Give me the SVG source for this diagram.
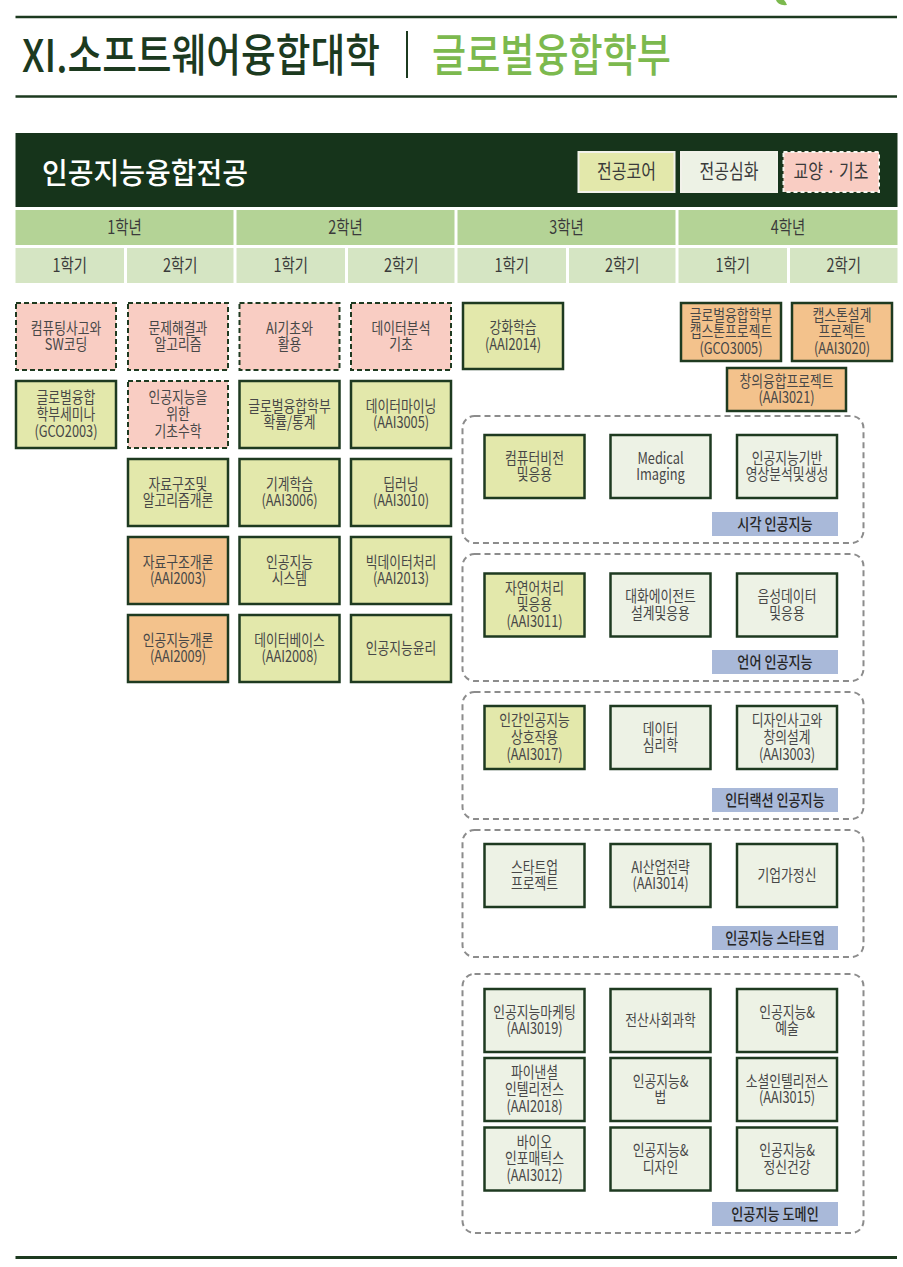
<svg xmlns="http://www.w3.org/2000/svg" width="903" height="1267" viewBox="0 0 903 1267">
<style>
text{font-family:"Noto Sans CJK KR","Noto Sans",sans-serif}
.t{font-size:16px;fill:#474747;text-anchor:middle;transform-box:fill-box;transform-origin:center;transform:scaleX(.8)}
.hd{font-size:18px;fill:#3a3a3a;text-anchor:middle;transform-box:fill-box;transform-origin:center;transform:scaleX(.8)}
.lg{font-size:20px;fill:#3a3a3a;text-anchor:middle;transform-box:fill-box;transform-origin:center;transform:scaleX(.8)}
.gt{font-size:16px;fill:#262626;font-weight:500;text-anchor:middle;transform-box:fill-box;transform-origin:center;transform:scaleX(.82)}
.pk{fill:#f9cdc3;stroke:#1e3a20;stroke-width:2;stroke-dasharray:5 3}
.yl{fill:#e3e8ab;stroke:#1e3a20;stroke-width:2.5}
.or{fill:#f3c28c;stroke:#1e3a20;stroke-width:2.5}
.lt{fill:#edf2e5;stroke:#1e3a20;stroke-width:2.5}
.grp{fill:none;stroke:#8c8c8c;stroke-width:2;stroke-dasharray:6 4}
.gl{fill:#a9b9d9}
.yr{fill:#b4d396}
.sm{fill:#d5e5c3}
</style>

<!-- page header -->
<g id="page-header">
  <path d="M776,0 Q778,6 787,5 Q786,2 784,0 Z" fill="#7cb94e"/>
  <line x1="15.5" y1="17" x2="897" y2="17" stroke="#1c3a1f" stroke-width="2.5"/>
  <text x="22" y="72" font-size="45" font-weight="500" fill="#1c3a1f" textLength="358" lengthAdjust="spacingAndGlyphs">XI.소프트웨어융합대학</text>
  <line x1="407" y1="31" x2="407" y2="78" stroke="#1c3a1f" stroke-width="2"/>
  <text x="432" y="72" font-size="45" font-weight="500" fill="#7cb94e" textLength="239" lengthAdjust="spacingAndGlyphs">글로벌융합학부</text>
  <line x1="15.5" y1="96.5" x2="897" y2="96.5" stroke="#1c3a1f" stroke-width="2.5"/>
</g>

<!-- major header -->
<g id="major-header">
  <rect x="15.5" y="133" width="882" height="74" fill="#16341b"/>
  <text x="42" y="184" font-size="29" font-weight="500" fill="#ffffff" textLength="206" lengthAdjust="spacingAndGlyphs">인공지능융합전공</text>
</g>

<g id="legend">
  <g id="legend-core">
    <rect x="578.5" y="152" width="96" height="40" fill="#e3e8ab" stroke="#f2f2ea" stroke-width="2"/>
    <text class="lg" x="626.5" y="179">전공코어</text>
  </g>
  <g id="legend-adv">
    <rect x="681" y="152" width="96" height="40" fill="#edf2e5" stroke="#f2f2ea" stroke-width="2"/>
    <text class="lg" x="729" y="179">전공심화</text>
  </g>
  <g id="legend-basic">
    <rect x="783.5" y="152" width="95.5" height="40" fill="#f9cdc3" stroke="#f6f6f0" stroke-width="2" stroke-dasharray="4 3"/>
    <text class="lg" x="831" y="179">교양 · 기초</text>
  </g>
</g>

<!-- year / semester header -->
<g id="years">
  <rect class="yr" x="15.5" y="210" width="218" height="35"/>
  <text class="hd" x="124.5" y="234">1학년</text>
  <rect class="yr" x="236.5" y="210" width="218" height="35"/>
  <text class="hd" x="345.5" y="234">2학년</text>
  <rect class="yr" x="457.5" y="210" width="218" height="35"/>
  <text class="hd" x="566.5" y="234">3학년</text>
  <rect class="yr" x="678.5" y="210" width="219" height="35"/>
  <text class="hd" x="788" y="234">4학년</text>
</g>
<g id="semesters">
  <rect class="sm" x="15.5" y="248" width="108.5" height="35"/>
  <text class="hd" x="69.75" y="272">1학기</text>
  <rect class="sm" x="127" y="248" width="106.5" height="35"/>
  <text class="hd" x="180.25" y="272">2학기</text>
  <rect class="sm" x="236.5" y="248" width="108.5" height="35"/>
  <text class="hd" x="290.75" y="272">1학기</text>
  <rect class="sm" x="348" y="248" width="106.5" height="35"/>
  <text class="hd" x="401.25" y="272">2학기</text>
  <rect class="sm" x="457.5" y="248" width="108.5" height="35"/>
  <text class="hd" x="511.75" y="272">1학기</text>
  <rect class="sm" x="569" y="248" width="106.5" height="35"/>
  <text class="hd" x="622.25" y="272">2학기</text>
  <rect class="sm" x="678.5" y="248" width="108.5" height="35"/>
  <text class="hd" x="732.75" y="272">1학기</text>
  <rect class="sm" x="790" y="248" width="107.5" height="35"/>
  <text class="hd" x="843.75" y="272">2학기</text>
</g>

<g id="connectors"></g>

<!-- 1학년 1학기 -->
<g id="n-computing">
  <rect class="pk" x="16" y="303" width="100" height="67"/>
  <text class="t"><tspan x="66" y="333.6">컴퓨팅사고와</tspan><tspan x="66" y="350.4">SW코딩</tspan></text>
</g>
<g id="n-seminar">
  <rect class="yl" x="16" y="381" width="100" height="67"/>
  <text class="t"><tspan x="66" y="403.3">글로벌융합</tspan><tspan x="66" y="420">학부세미나</tspan><tspan x="66" y="436.7">(GCO2003)</tspan></text>
</g>

<!-- 1학년 2학기 -->
<g id="n-problem">
  <rect class="pk" x="128" y="303" width="100" height="67"/>
  <text class="t"><tspan x="178" y="333.6">문제해결과</tspan><tspan x="178" y="350.4">알고리즘</tspan></text>
</g>
<g id="n-math">
  <rect class="pk" x="128" y="381" width="100" height="67"/>
  <text class="t"><tspan x="178" y="403.3">인공지능을</tspan><tspan x="178" y="420">위한</tspan><tspan x="178" y="436.7">기초수학</tspan></text>
</g>
<g id="n-dsalgo">
  <rect class="yl" x="128" y="459" width="100" height="67"/>
  <text class="t"><tspan x="178" y="489.6">자료구조및</tspan><tspan x="178" y="506.4">알고리즘개론</tspan></text>
</g>
<g id="n-ds">
  <rect class="or" x="128" y="537" width="100" height="67"/>
  <text class="t"><tspan x="178" y="567.6">자료구조개론</tspan><tspan x="178" y="584.4">(AAI2003)</tspan></text>
</g>
<g id="n-aiintro">
  <rect class="or" x="128" y="615" width="100" height="67"/>
  <text class="t"><tspan x="178" y="645.6">인공지능개론</tspan><tspan x="178" y="662.4">(AAI2009)</tspan></text>
</g>

<!-- 2학년 1학기 -->
<g id="n-aibasic">
  <rect class="pk" x="239.5" y="303" width="100" height="67"/>
  <text class="t"><tspan x="289.5" y="333.6">AI기초와</tspan><tspan x="289.5" y="350.4">활용</tspan></text>
</g>
<g id="n-prob">
  <rect class="yl" x="239.5" y="381" width="100" height="67"/>
  <text class="t"><tspan x="289.5" y="411.6">글로벌융합학부</tspan><tspan x="289.5" y="428.4">확률/통계</tspan></text>
</g>
<g id="n-ml">
  <rect class="yl" x="239.5" y="459" width="100" height="67"/>
  <text class="t"><tspan x="289.5" y="489.6">기계학습</tspan><tspan x="289.5" y="506.4">(AAI3006)</tspan></text>
</g>
<g id="n-aisys">
  <rect class="yl" x="239.5" y="537" width="100" height="67"/>
  <text class="t"><tspan x="289.5" y="567.6">인공지능</tspan><tspan x="289.5" y="584.4">시스템</tspan></text>
</g>
<g id="n-db">
  <rect class="yl" x="239.5" y="615" width="100" height="67"/>
  <text class="t"><tspan x="289.5" y="645.6">데이터베이스</tspan><tspan x="289.5" y="662.4">(AAI2008)</tspan></text>
</g>

<!-- 2학년 2학기 -->
<g id="n-dataanal">
  <rect class="pk" x="351" y="303" width="100" height="67"/>
  <text class="t"><tspan x="401" y="333.6">데이터분석</tspan><tspan x="401" y="350.4">기초</tspan></text>
</g>
<g id="n-mining">
  <rect class="yl" x="351" y="381" width="100" height="67"/>
  <text class="t"><tspan x="401" y="411.6">데이터마이닝</tspan><tspan x="401" y="428.4">(AAI3005)</tspan></text>
</g>
<g id="n-dl">
  <rect class="yl" x="351" y="459" width="100" height="67"/>
  <text class="t"><tspan x="401" y="489.6">딥러닝</tspan><tspan x="401" y="506.4">(AAI3010)</tspan></text>
</g>
<g id="n-bigdata">
  <rect class="yl" x="351" y="537" width="100" height="67"/>
  <text class="t"><tspan x="401" y="567.6">빅데이터처리</tspan><tspan x="401" y="584.4">(AAI2013)</tspan></text>
</g>
<g id="n-ethics">
  <rect class="yl" x="351" y="615" width="100" height="67"/>
  <text class="t" x="401" y="654">인공지능윤리</text>
</g>

<!-- 3학년 -->
<g id="n-rl">
  <rect class="yl" x="463" y="303" width="100" height="66"/>
  <text class="t"><tspan x="513" y="333.2">강화학습</tspan><tspan x="513" y="349.8">(AAI2014)</tspan></text>
</g>

<!-- 4학년 -->
<g id="n-capstone-gco">
  <rect class="or" x="681" y="303" width="100" height="58"/>
  <text class="t"><tspan x="731" y="320.8">글로벌융합학부</tspan><tspan x="731" y="337.5">캡스톤프로젝트</tspan><tspan x="731" y="354.2">(GCO3005)</tspan></text>
</g>
<g id="n-capstone-aai">
  <rect class="or" x="792" y="303" width="100" height="58"/>
  <text class="t"><tspan x="842" y="320.8">캡스톤설계</tspan><tspan x="842" y="337.5">프로젝트</tspan><tspan x="842" y="354.2">(AAI3020)</tspan></text>
</g>
<g id="n-creative">
  <rect class="or" x="727" y="368" width="119" height="43"/>
  <text class="t"><tspan x="786.5" y="386.6">창의융합프로젝트</tspan><tspan x="786.5" y="403.4">(AAI3021)</tspan></text>
</g>

<!-- 시각 인공지능 -->
<g id="grp-vision">
  <rect class="grp" x="462.5" y="416" width="401" height="127" rx="12"/>
  <rect class="gl" x="712" y="512" width="126" height="24"/>
  <text class="gt" x="775" y="529.6">시각 인공지능</text>
</g>
<g id="n-cv">
  <rect class="yl" x="484.5" y="435" width="100" height="63"/>
  <text class="t"><tspan x="534.5" y="463.6">컴퓨터비전</tspan><tspan x="534.5" y="480.4">및응용</tspan></text>
</g>
<g id="n-medical">
  <rect class="lt" x="610.5" y="435" width="100" height="63"/>
  <text class="t"><tspan x="660.5" y="463.6">Medical</tspan><tspan x="660.5" y="480.4">Imaging</tspan></text>
</g>
<g id="n-imggen">
  <rect class="lt" x="737" y="435" width="100" height="63"/>
  <text class="t"><tspan x="787" y="463.6">인공지능기반</tspan><tspan x="787" y="480.4">영상분석및생성</tspan></text>
</g>

<!-- 언어 인공지능 -->
<g id="grp-language">
  <rect class="grp" x="462.5" y="554" width="401" height="127" rx="12"/>
  <rect class="gl" x="712" y="650" width="126" height="24"/>
  <text class="gt" x="775" y="667.6">언어 인공지능</text>
</g>
<g id="n-nlp">
  <rect class="yl" x="484.5" y="573.5" width="100" height="63"/>
  <text class="t"><tspan x="534.5" y="593.8">자연어처리</tspan><tspan x="534.5" y="610.5">및응용</tspan><tspan x="534.5" y="627.2">(AAI3011)</tspan></text>
</g>
<g id="n-agent">
  <rect class="lt" x="610.5" y="573.5" width="100" height="63"/>
  <text class="t"><tspan x="660.5" y="602.1">대화에이전트</tspan><tspan x="660.5" y="618.9">설계및응용</tspan></text>
</g>
<g id="n-speech">
  <rect class="lt" x="737" y="573.5" width="100" height="63"/>
  <text class="t"><tspan x="787" y="602.1">음성데이터</tspan><tspan x="787" y="618.9">및응용</tspan></text>
</g>

<!-- 인터랙션 인공지능 -->
<g id="grp-interaction">
  <rect class="grp" x="462.5" y="692" width="401" height="127" rx="12"/>
  <rect class="gl" x="712" y="788" width="126" height="24"/>
  <text class="gt" x="775" y="805.6">인터랙션 인공지능</text>
</g>
<g id="n-hai">
  <rect class="yl" x="484.5" y="706" width="100" height="63"/>
  <text class="t"><tspan x="534.5" y="726.3">인간인공지능</tspan><tspan x="534.5" y="743">상호작용</tspan><tspan x="534.5" y="759.7">(AAI3017)</tspan></text>
</g>
<g id="n-datapsy">
  <rect class="lt" x="610.5" y="706" width="100" height="63"/>
  <text class="t"><tspan x="660.5" y="734.6">데이터</tspan><tspan x="660.5" y="751.4">심리학</tspan></text>
</g>
<g id="n-design">
  <rect class="lt" x="737" y="706" width="100" height="63"/>
  <text class="t"><tspan x="787" y="726.3">디자인사고와</tspan><tspan x="787" y="743">창의설계</tspan><tspan x="787" y="759.7">(AAI3003)</tspan></text>
</g>

<!-- 인공지능 스타트업 -->
<g id="grp-startup">
  <rect class="grp" x="462.5" y="830" width="401" height="127" rx="12"/>
  <rect class="gl" x="712" y="926" width="126" height="24"/>
  <text class="gt" x="775" y="943.6">인공지능 스타트업</text>
</g>
<g id="n-startup">
  <rect class="lt" x="484.5" y="844" width="100" height="63"/>
  <text class="t"><tspan x="534.5" y="872.6">스타트업</tspan><tspan x="534.5" y="889.4">프로젝트</tspan></text>
</g>
<g id="n-strategy">
  <rect class="lt" x="610.5" y="844" width="100" height="63"/>
  <text class="t"><tspan x="660.5" y="872.6">AI산업전략</tspan><tspan x="660.5" y="889.4">(AAI3014)</tspan></text>
</g>
<g id="n-entre">
  <rect class="lt" x="737" y="844" width="100" height="63"/>
  <text class="t" x="787" y="881">기업가정신</text>
</g>

<!-- 인공지능 도메인 -->
<g id="grp-domain">
  <rect class="grp" x="462.5" y="974" width="401" height="259" rx="12"/>
  <rect class="gl" x="712" y="1202" width="126" height="24"/>
  <text class="gt" x="775" y="1219.6">인공지능 도메인</text>
</g>
<g id="n-marketing">
  <rect class="lt" x="484.5" y="989" width="100" height="63"/>
  <text class="t"><tspan x="534.5" y="1017.6">인공지능마케팅</tspan><tspan x="534.5" y="1034.4">(AAI3019)</tspan></text>
</g>
<g id="n-css">
  <rect class="lt" x="610.5" y="989" width="100" height="63"/>
  <text class="t" x="660.5" y="1026">전산사회과학</text>
</g>
<g id="n-art">
  <rect class="lt" x="737" y="989" width="100" height="63"/>
  <text class="t"><tspan x="787" y="1017.6">인공지능&amp;</tspan><tspan x="787" y="1034.4">예술</tspan></text>
</g>
<g id="n-finance">
  <rect class="lt" x="484.5" y="1058" width="100" height="63"/>
  <text class="t"><tspan x="534.5" y="1078.3">파이낸셜</tspan><tspan x="534.5" y="1095">인텔리전스</tspan><tspan x="534.5" y="1111.7">(AAI2018)</tspan></text>
</g>
<g id="n-law">
  <rect class="lt" x="610.5" y="1058" width="100" height="63"/>
  <text class="t"><tspan x="660.5" y="1086.6">인공지능&amp;</tspan><tspan x="660.5" y="1103.4">법</tspan></text>
</g>
<g id="n-social">
  <rect class="lt" x="737" y="1058" width="100" height="63"/>
  <text class="t"><tspan x="787" y="1086.6">소셜인텔리전스</tspan><tspan x="787" y="1103.4">(AAI3015)</tspan></text>
</g>
<g id="n-bio">
  <rect class="lt" x="484.5" y="1127.5" width="100" height="63"/>
  <text class="t"><tspan x="534.5" y="1147.8">바이오</tspan><tspan x="534.5" y="1164.5">인포매틱스</tspan><tspan x="534.5" y="1181.2">(AAI3012)</tspan></text>
</g>
<g id="n-aidesign">
  <rect class="lt" x="610.5" y="1127.5" width="100" height="63"/>
  <text class="t"><tspan x="660.5" y="1156.1">인공지능&amp;</tspan><tspan x="660.5" y="1172.9">디자인</tspan></text>
</g>
<g id="n-mental">
  <rect class="lt" x="737" y="1127.5" width="100" height="63"/>
  <text class="t"><tspan x="787" y="1156.1">인공지능&amp;</tspan><tspan x="787" y="1172.9">정신건강</tspan></text>
</g>

<g id="page-footer">
  <line x1="15.5" y1="1257.5" x2="897" y2="1257.5" stroke="#1c3a1f" stroke-width="3"/>
</g>
</svg>
